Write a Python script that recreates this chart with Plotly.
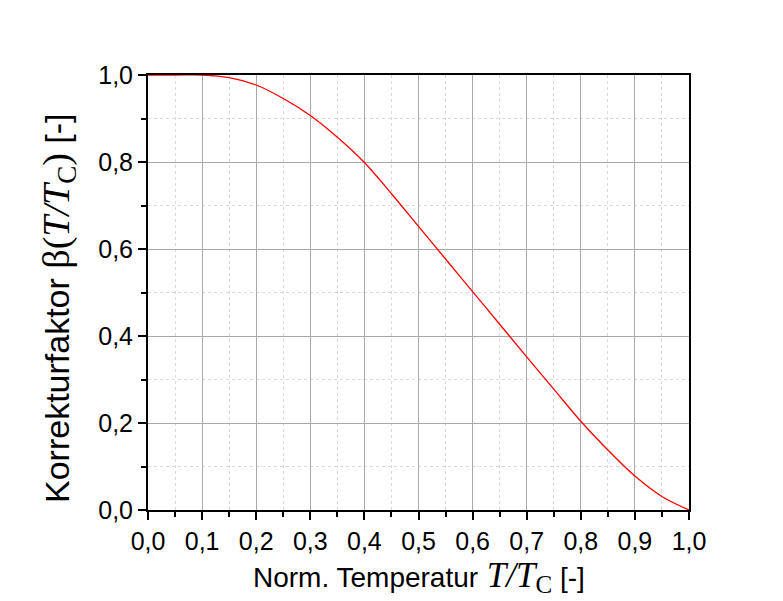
import plotly.graph_objects as go

t_norm = [0.0, 0.05, 0.1, 0.15, 0.2, 0.25, 0.3, 0.35, 0.4, 0.45, 0.5,
          0.55, 0.6, 0.65, 0.7, 0.75, 0.8, 0.85, 0.9, 0.95, 1.0]
beta = [1.0, 1.0, 1.0, 0.994, 0.977, 0.946, 0.907, 0.857, 0.799, 0.727, 0.652,
        0.577, 0.502, 0.427, 0.352, 0.278, 0.204, 0.138, 0.078, 0.031, 0.0]

x_ticks = [0.0, 0.1, 0.2, 0.3, 0.4, 0.5, 0.6, 0.7, 0.8, 0.9, 1.0]
y_ticks = [0.0, 0.2, 0.4, 0.6, 0.8, 1.0]

SANS = "Liberation Sans, Arial, sans-serif"
SERIF = "'Liberation Serif','Times New Roman',serif"


def serif(text, size, italic=False):
    st = f"font-family:{SERIF};font-size:{size}px"
    if italic:
        st += ";font-style:italic"
    return f"<span style=\"{st}\">{text}</span>"


x_title = ("Norm. Temperatur" + serif(" T/T", 35, True)
           + "<sub>" + serif("C", 25) + "</sub> [-]")
y_title = ("Korrekturfaktor " + serif("β(", 38) + serif("T/T", 38, True)
           + "<sub>" + serif("C", 27) + "</sub>" + serif(")", 38) + " [-]")

fig = go.Figure()
fig.add_trace(go.Scatter(x=t_norm, y=beta, mode="lines",
                         line=dict(color="#ff0000", width=1.3, shape="spline", smoothing=1.0),
                         showlegend=False, hoverinfo="skip"))

axis_common = dict(
    showline=True, linecolor="black", linewidth=2, mirror=True,
    ticks="outside", ticklen=8, tickwidth=1.5, tickcolor="black",
    showgrid=True, gridcolor="#a8a8a8", gridwidth=1,
    tickformat=".1f", zeroline=False,
)

fig.update_xaxes(
    range=[0, 1], tickvals=x_ticks,
    tickfont=dict(family=SANS, size=25, color="black"),
    minor=dict(dtick=0.05, ticks="outside", ticklen=5, tickwidth=1.5, tickcolor="black",
               showgrid=True, gridcolor="#d9d9d9", griddash="dot", gridwidth=1),
    **axis_common)

fig.update_yaxes(
    range=[0, 1], tickvals=y_ticks,
    tickfont=dict(family=SANS, size=25, color="black"),
    minor=dict(dtick=0.1, ticks="outside", ticklen=5, tickwidth=1.5, tickcolor="black",
               showgrid=True, gridcolor="#d9d9d9", griddash="dot", gridwidth=1),
    **axis_common)

fig.add_annotation(text=x_title, xref="paper", yref="paper",
                   x=(419 - 148) / 541, y=(510 - 577) / 435, xanchor="center", yanchor="middle",
                   showarrow=False, font=dict(family=SANS, size=28, color="black"))
fig.add_annotation(text=y_title, xref="paper", yref="paper",
                   x=(58 - 148) / 541, y=(510 - 309) / 435, xanchor="center", yanchor="middle",
                   textangle=-90,
                   showarrow=False, font=dict(family=SANS, size=34, color="black"))

fig.update_layout(
    width=783, height=601,
    margin=dict(l=148, r=94, t=75, b=91),
    paper_bgcolor="white", plot_bgcolor="white",
    separators=",.",
)

fig.write_html("out.html")
